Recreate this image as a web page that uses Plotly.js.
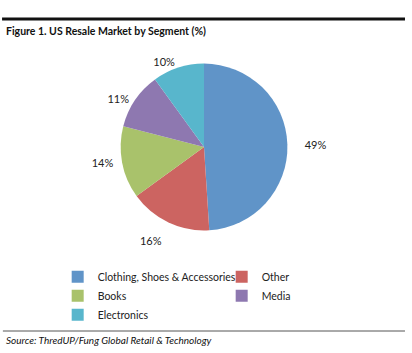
<!DOCTYPE html>
<html>
<head>
<meta charset="utf-8">
<script src="https://cdn.plot.ly/plotly-3.0.1.min.js"></script>
<style>html,body{margin:0;padding:0;background:#fff;}#chart{width:412px;height:353px;}</style>
</head>
<body>
<div id="chart"></div>
<script>
const segments = ["Clothing, Shoes & Accessories", "Other", "Books", "Media", "Electronics"];
const shares = [49, 16, 14, 11, 10];
const colors = ["#6094C8", "#CC6461", "#A9C26B", "#8E78B0", "#58B6CC"];
const titleText = "Figure 1. US Resale Market by Segment (%)";
const sourceText = "Source: ThredUP/Fung Global Retail & Technology";

const NB = "\u00a0";
const labelTemplates = [
  NB + NB + NB + NB + NB + "%{value}%",
  NB + "<br>%{value}%",
  "%{value}%" + NB + NB,
  "%{value}%" + NB,
  "%{value}%"
];

const trace = {
  type: "pie",
  labels: segments,
  values: shares,
  sort: false,
  direction: "clockwise",
  rotation: 0,
  marker: {colors: colors, line: {width: 0}},
  textposition: "outside",
  texttemplate: labelTemplates,
  outsidetextfont: {family: "Lato, sans-serif", size: 11, color: "#222"},
  hoverinfo: "label+value",
  domain: {x: [0.2928, 0.6976], y: [0.3371, 0.8300]},
  automargin: false
};

const layout = {
  width: 412, height: 353,
  margin: {l: 0, r: 0, t: 0, b: 0},
  paper_bgcolor: "#fff",
  font: {family: "Lato, sans-serif", size: 10.5, color: "#222"},
  showlegend: true,
  legend: {
    orientation: "h",
    x: 0.14, y: 0.257, xanchor: "left", yanchor: "top",
    entrywidth: 119,
    font: {family: "Lato, sans-serif", size: 10.5, color: "#222"},
    traceorder: "normal",
    tracegroupgap: 0
  },
  shapes: [
    {type: "line", xref: "paper", yref: "paper", x0: 0.005, x1: 0.983, y0: 1 - 19/353, y1: 1 - 19/353, line: {color: "#111", width: 3}},
    {type: "line", xref: "paper", yref: "paper", x0: 0.007, x1: 0.983, y0: 1 - 331/353, y1: 1 - 331/353, line: {color: "#555", width: 1}}
  ],
  annotations: [
    {text: "<b>" + titleText + "</b>", xref: "paper", yref: "paper", x: 4/412, y: 1 - 31/353, xanchor: "left", yanchor: "middle", showarrow: false, font: {family: "Lato, sans-serif", size: 10.5, color: "#111"}},
    {text: "<i>" + sourceText + "</i>", xref: "paper", yref: "paper", x: 4/412, y: 1 - 340/353, xanchor: "left", yanchor: "middle", showarrow: false, font: {family: "Lato, sans-serif", size: 10, color: "#111"}}
  ]
};

Plotly.newPlot("chart", [trace], layout, {displayModeBar: false, staticPlot: true});
</script>
</body>
</html>
